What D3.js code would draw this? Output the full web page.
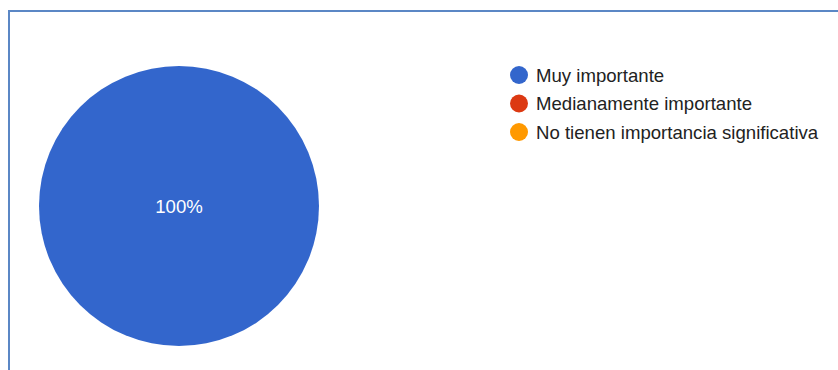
<!DOCTYPE html>
<html>
<head>
<meta charset="utf-8">
<script src="https://cdn.jsdelivr.net/npm/d3@7"></script>
<style>
  body { margin: 0; background: #fff; }
  svg { display: block; }
</style>
</head>
<body>
<svg id="chart" width="838" height="370"></svg>
<script>
// Data
var categories = ["Muy importante", "Medianamente importante", "No tienen importancia significativa"];
var values = [100, 0, 0];
var colors = ["#3366cc", "#dc3912", "#ff9900"];

var svg = d3.select("#chart");
var fontFamily = "'Liberation Sans', Arial, sans-serif";

// frame (left + top edges only visible)
svg.append("line").attr("x1", 9).attr("y1", 11).attr("x2", 838).attr("y2", 11)
   .attr("stroke", "#5b87c5").attr("stroke-width", 2);
svg.append("line").attr("x1", 9).attr("y1", 10).attr("x2", 9).attr("y2", 370)
   .attr("stroke", "#5b87c5").attr("stroke-width", 2);

var cx = 179, cy = 206, radius = 140;
var total = d3.sum(values);

var pie = d3.pie().sort(null).value(function(d){ return d; });
var arc = d3.arc().innerRadius(0).outerRadius(radius);

var g = svg.append("g").attr("transform", "translate(" + cx + "," + cy + ")");

g.selectAll("path")
 .data(pie(values))
 .enter().append("path")
 .attr("d", arc)
 .attr("fill", function(d, i){ return colors[i]; })
 .attr("stroke", "none");

// slice labels
g.selectAll("text.slice")
 .data(pie(values).filter(function(d){ return d.value > 0; }))
 .enter().append("text")
 .attr("class", "slice")
 .attr("transform", function(d){
     if (d.endAngle - d.startAngle >= 2 * Math.PI - 1e-6) return "translate(0,0)";
     var c = d3.arc().innerRadius(radius * 0.6).outerRadius(radius * 0.6).centroid(d);
     return "translate(" + c + ")";
 })
 .attr("text-anchor", "middle")
 .attr("dy", "0.35em")
 .attr("font-family", fontFamily)
 .attr("font-size", 18.6)
 .attr("fill", "#ffffff")
 .text(function(d){ return Math.round(d.value / total * 100) + "%"; });

// legend
var legend = svg.append("g").attr("transform", "translate(519,75)");
var item = legend.selectAll("g")
 .data(categories)
 .enter().append("g")
 .attr("transform", function(d, i){ return "translate(0," + (i * 28.5) + ")"; });

item.append("circle").attr("r", 9).attr("fill", function(d, i){ return colors[i]; });
item.append("text")
 .attr("x", 17)
 .attr("dy", "0.35em")
 .attr("font-family", fontFamily)
 .attr("font-size", 18.6)
 .attr("fill", "#222222")
 .text(function(d){ return d; });
</script>
</body>
</html>
